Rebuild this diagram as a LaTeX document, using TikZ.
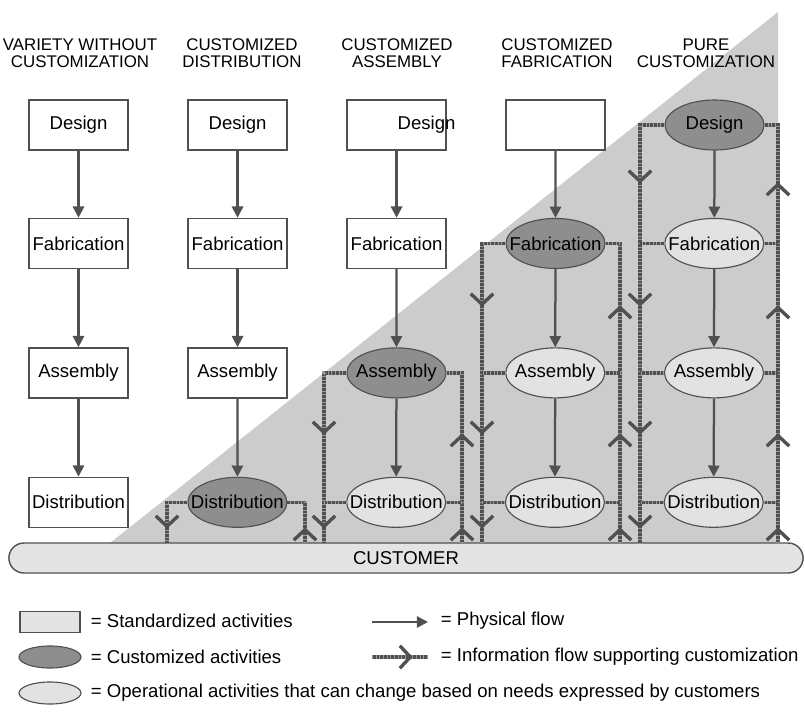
\documentclass[tikz,border=0pt]{standalone}
\usepackage{fontspec}
\setmainfont{Liberation Sans}
\usepackage{tikz}
\usetikzlibrary{arrows.meta, shapes.geometric, decorations.markings, positioning}

\definecolor{lineg}{HTML}{505050}
\definecolor{tickg}{HTML}{9A9A9A}
\definecolor{trigray}{HTML}{CCCCCC}
\definecolor{darkfill}{HTML}{8E8E8E}
\definecolor{lightfill}{HTML}{E2E2E2}
\definecolor{barfill}{HTML}{E4E4E4}

\begin{document}
\begin{tikzpicture}[
            x = 0.025cm,
            y = -0.025cm,
            > = {Triangle[length=8pt, width=8pt]},
            font = \fontsize{13.2}{14}\selectfont,
            chev/.style = {postaction = {solid, draw = lineg, line width = 1.7pt, decorate, decoration = {markings,
                mark = at position #1 with {\arrow{Straight Barb[length=7.5pt, width=16pt, line width=1.7pt 0]}}}}}
        ]

        \tikzstyle{std}=[
            rectangle,
            draw = lineg,
            line width = 1pt,
            fill = white,
            inner xsep = 1pt,
            minimum width = 2.475cm,
            minimum height = 1.25cm
        ]
        \tikzstyle{act}=[
            ellipse,
            draw = lineg,
            line width = 0.8pt,
            minimum width = 2.475cm,
            minimum height = 1.25cm,
            inner xsep = -12pt,
            inner ysep = 0pt
        ]
        \tikzstyle{cust}=[act, fill = darkfill]
        \tikzstyle{oper}=[act, fill = lightfill]
        \tikzstyle{phys}=[->, draw = lineg, line width = 1.6pt]
        \tikzstyle{info}=[draw = lineg, line width = 2.4pt,
            postaction = {draw = tickg, line width = 2.4pt, dash pattern = on 0.4pt off 2.2pt}]
        \tikzstyle{head}=[align = center, font = \fontsize{12}{12}\selectfont]
        %\tikzset{every node/.append style={font=\large}}

        \fill[white] (0,0) rectangle (805,713);
        \useasboundingbox (0,0) rectangle (805,713);

        % shaded part
        \fill[trigray] (110,543) -- (778,12) -- (778,543) -- cycle;

        \node[head] (hA) at (80,53) {VARIETY WITHOUT\\CUSTOMIZATION};
        \node[head] (hB) at (242,53) {CUSTOMIZED\\DISTRIBUTION};
        \node[head] (hC) at (397,53) {CUSTOMIZED\\ASSEMBLY};
        \node[head] (hD) at (557,53) {CUSTOMIZED\\FABRICATION};
        \node[head] (hE) at (706,53) {PURE\\CUSTOMIZATION};

        \node[std] (desA) at (78.5,125) {Design};
        \node[std] (fabA) [below=1.675cm of desA] {Fabrication};
        \node[std] (assA) [below=1.95cm of fabA] {Assembly};
        \node[std] (disA) [below=1.95cm of assA] {Distribution};

        \node[std] (desB) [right=1.465cm of desA] {Design};
        \node[std] (fabB) [right=1.465cm of fabA] {Fabrication};
        \node[std] (assB) [right=1.465cm of assA] {Assembly};
        \node[cust] (disB) [right=1.465cm of disA] {Distribution};

        \node[std] (desC) [right=1.465cm of desB] {};
        \node (desCt) at ([xshift=0.75cm]desC.center) {Design};
        \node[std] (fabC) [right=1.465cm of fabB] {Fabrication};
        \node[cust] (assC) [right=1.465cm of assB] {Assembly};
        \node[oper] (disC) [right=1.465cm of disB] {Distribution};

        \node[std] (desD) [right=1.465cm of desC] {};
        \node[cust] (fabD) [right=1.465cm of fabC] {Fabrication};
        \node[oper] (assD) [right=1.465cm of assC] {Assembly};
        \node[oper] (disD) [right=1.465cm of disC] {Distribution};

        \node[cust] (desE) [right=1.465cm of desD] {Design};
        \node[oper] (fabE) [right=1.465cm of fabD] {Fabrication};
        \node[oper] (assE) [right=1.465cm of assD] {Assembly};
        \node[oper] (disE) [right=1.465cm of disD] {Distribution};

        \node[draw = lineg, line width = 1pt, fill = barfill, rounded corners = 0.375cm,
              minimum width = 19.85cm, minimum height = 0.75cm] (customer) at (406,558) {CUSTOMER};

        % physical flow
        \draw[phys] (desA) -- (fabA);
        \draw[phys] (fabA) -- (assA);
        \draw[phys] (assA) -- (disA);
        \draw[phys] (desB) -- (fabB);
        \draw[phys] (fabB) -- (assB);
        \draw[phys] (assB) -- (disB);
        \draw[phys] (desC) -- (fabC);
        \draw[phys] (fabC) -- (assC);
        \draw[phys] (assC) -- (disC);
        \draw[phys] (desD) -- (fabD);
        \draw[phys] (fabD) -- (assD);
        \draw[phys] (assD) -- (disD);
        \draw[phys] (desE) -- (fabE);
        \draw[phys] (fabE) -- (assE);
        \draw[phys] (assE) -- (disE);

        % information flow
        \coordinate (lB) at (167,543);
        \coordinate (rB) at (305,543);
        \coordinate (lC) at (324,543);
        \coordinate (rC) at (462,543);
        \coordinate (lD) at (482,543);
        \coordinate (rD) at (620,543);
        \coordinate (lE) at (640,543);
        \coordinate (rE) at (778,543);

        \draw[info, chev=-0.375cm] (disB.west) -| (lB);
        \draw[info, chev=0.375cm] (rB) |- (disB.east);

        \draw[info, chev=-0.375cm, chev=-2.725cm] (assC.west) -| (lC);
        \draw[info, chev=0.375cm, chev=2.725cm] (rC) |- (assC.east);
        \draw[info] (disC.west) -- (disC.west -| lC);
        \draw[info] (disC.east) -- (disC.east -| rC);

        \draw[info, chev=-0.375cm, chev=-2.725cm, chev=-5.925cm] (fabD.west) -| (lD);
        \draw[info, chev=0.375cm, chev=2.725cm, chev=5.925cm] (rD) |- (fabD.east);
        \draw[info] (assD.west) -- (assD.west -| lD);
        \draw[info] (assD.east) -- (assD.east -| rD);
        \draw[info] (disD.west) -- (disD.west -| lD);
        \draw[info] (disD.east) -- (disD.east -| rD);

        \draw[info, chev=-0.375cm, chev=-2.725cm, chev=-5.925cm, chev=-9cm] (desE.west) -| (lE);
        \draw[info, chev=0.375cm, chev=2.725cm, chev=5.925cm, chev=9cm] (rE) |- (desE.east);
        \draw[info] (fabE.west) -- (fabE.west -| lE);
        \draw[info] (fabE.east) -- (fabE.east -| rE);
        \draw[info] (assE.west) -- (assE.west -| lE);
        \draw[info] (assE.east) -- (assE.east -| rE);
        \draw[info] (disE.west) -- (disE.west -| lE);
        \draw[info] (disE.east) -- (disE.east -| rE);

        % legend
        \node[std, fill = barfill, minimum width = 1.5cm, minimum height = 0.52cm] (lgStd) at (50,622) {};
        \node[cust, minimum width = 1.55cm, minimum height = 0.55cm] (lgCust) at (50,657) {};
        \node[oper, minimum width = 1.55cm, minimum height = 0.55cm] (lgOper) at (50,693) {};
        \node[anchor = west] (txStd) at (86,621) {= Standardized activities};
        \node[anchor = west] (txCust) at (86,657) {= Customized activities};
        \node[anchor = west] (txOper) at (86,693) {= Operational activities that can change based on needs expressed by customers};

        \coordinate (lgP1) at (372,622);
        \coordinate (lgP2) at (428,622);
        \draw[phys] (lgP1) -- (lgP2);
        \node[anchor = west] (txPhys) at (436,621) {= Physical flow};
        \coordinate (lgI1) at (372,657);
        \coordinate (lgI2) at (428,657);
        \draw[info, chev=1cm] (lgI1) -- (lgI2);
        \node[anchor = west] (txInfo) at (436,657) {= Information flow supporting customization};

    \end{tikzpicture}
\end{document}
